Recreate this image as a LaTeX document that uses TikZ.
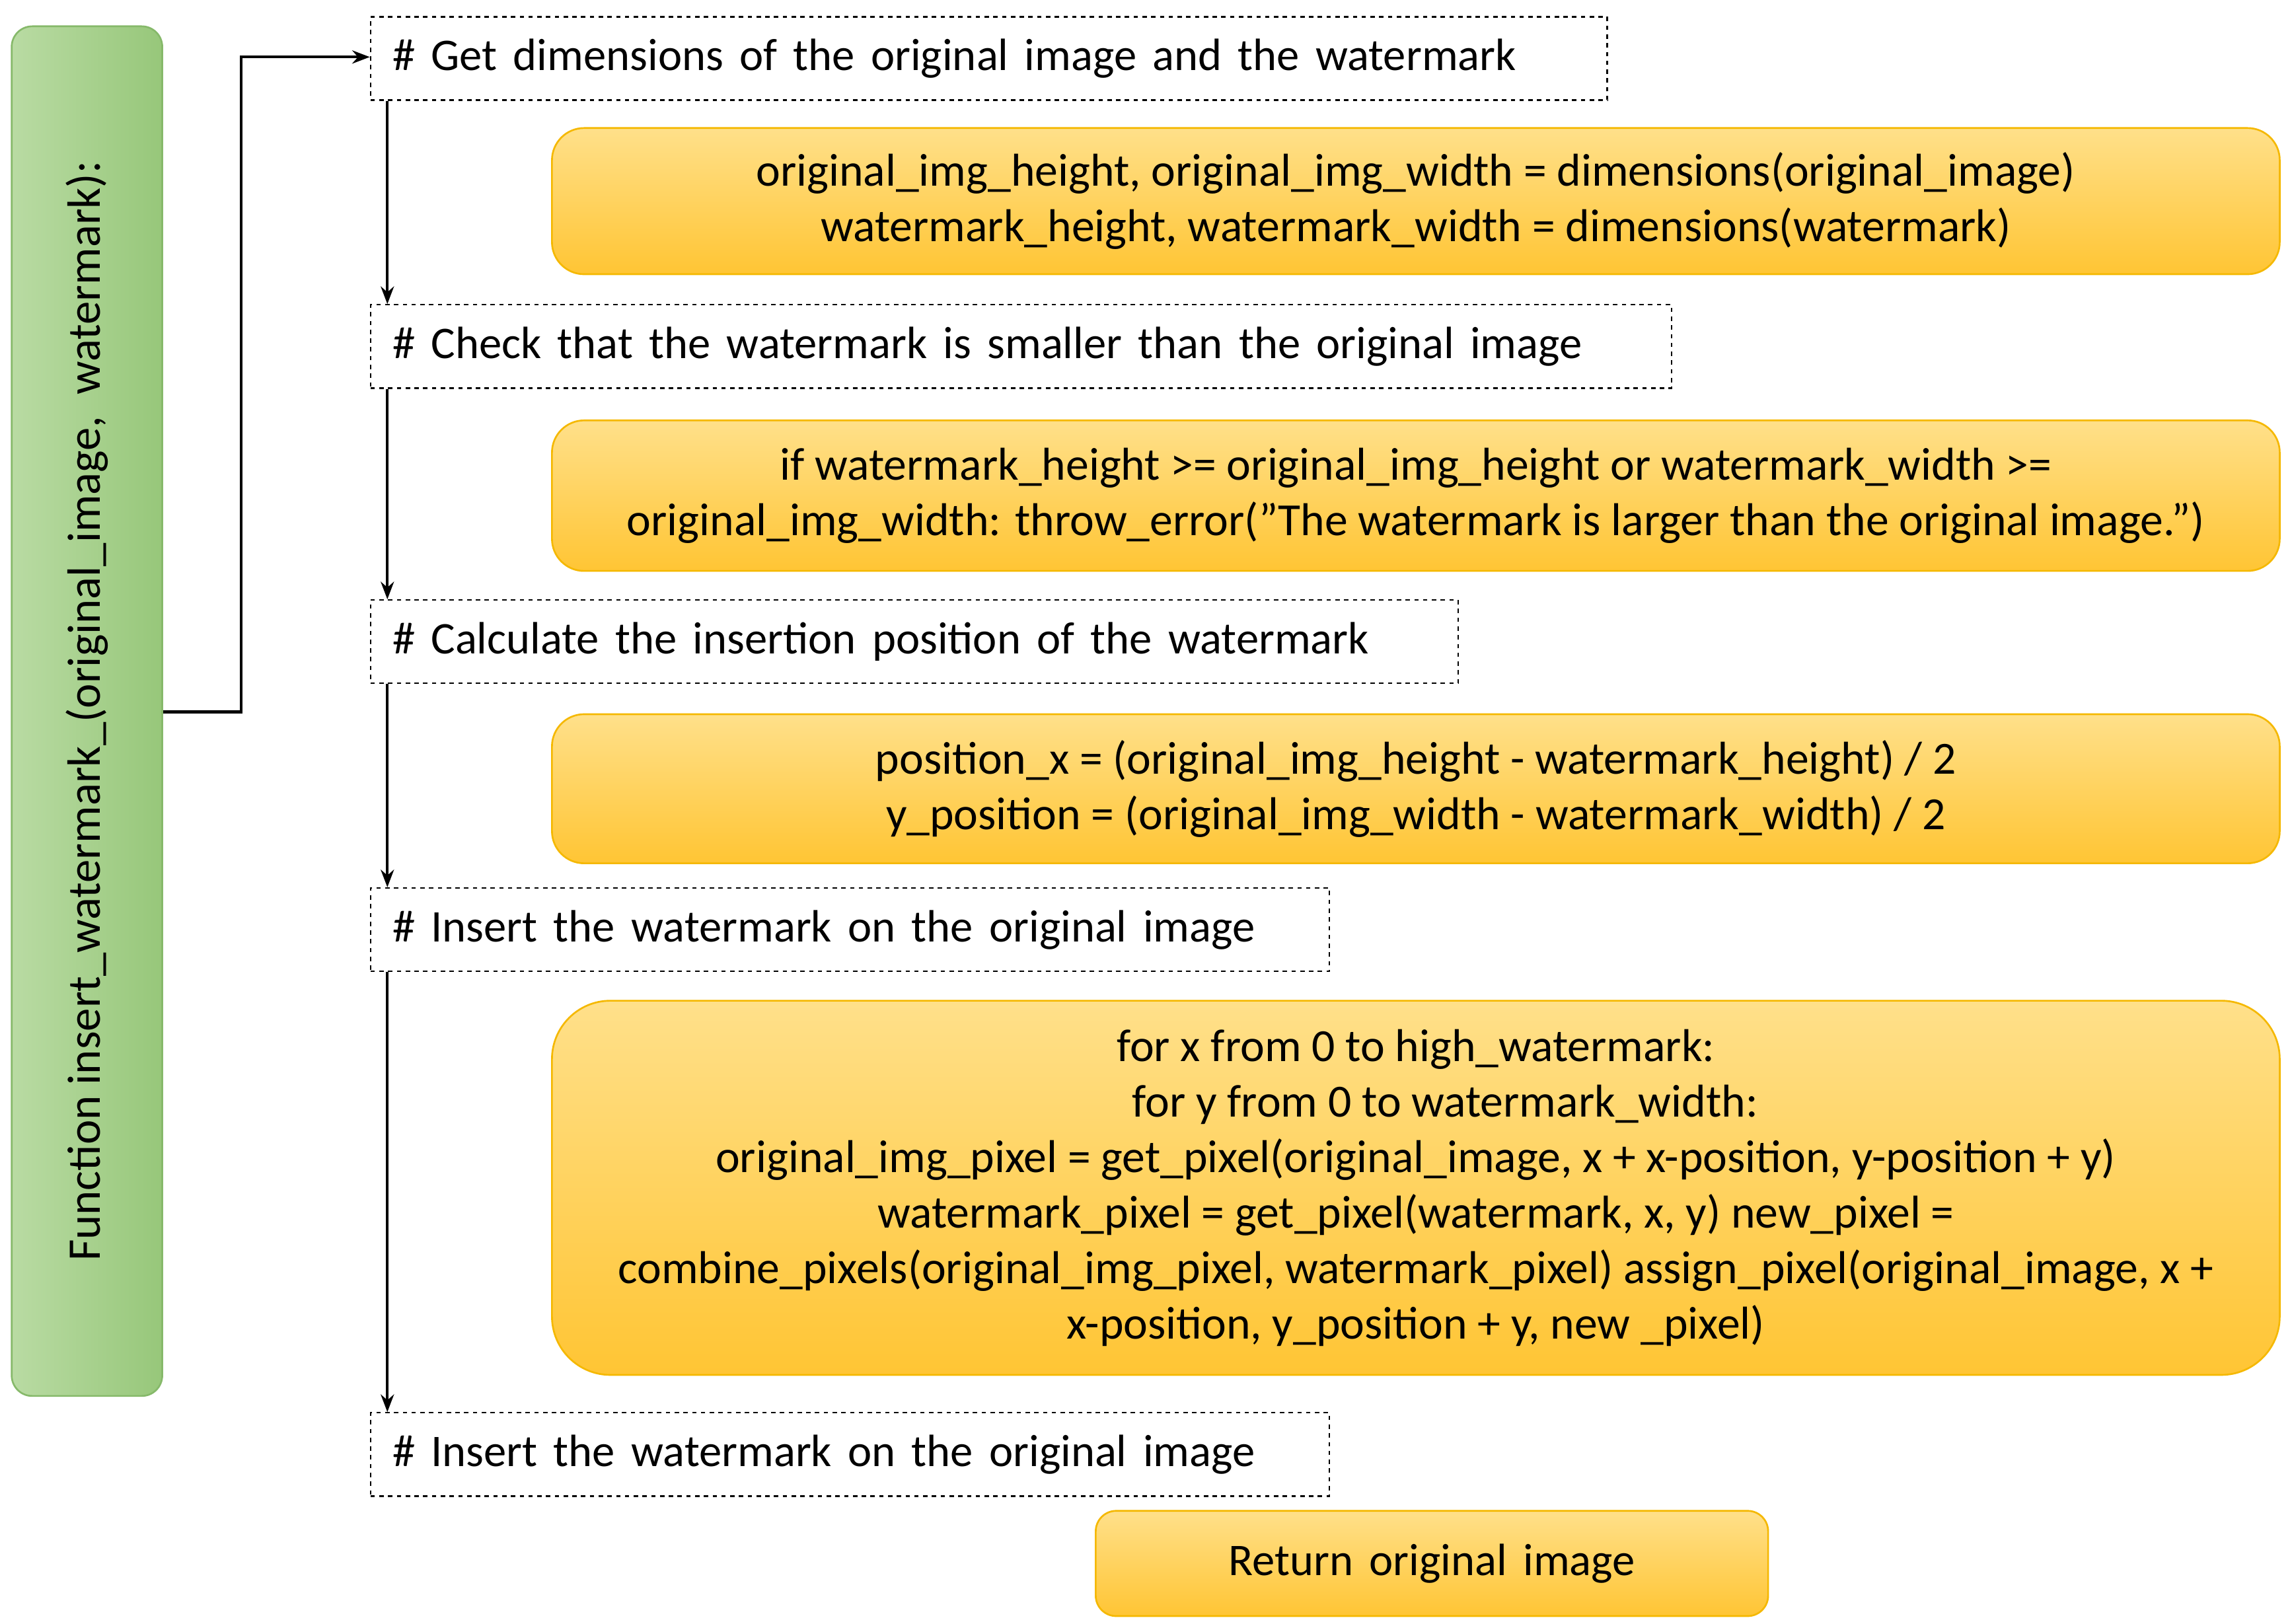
\documentclass[tikz,border=0pt]{standalone}
\usepackage{fontspec}
\setmainfont{Carlito}
\usetikzlibrary{arrows.meta}
\definecolor{og1}{HTML}{FFE08A}
\definecolor{og2}{HTML}{FFC534}
\definecolor{ogb}{HTML}{F5B800}
\definecolor{gr1}{HTML}{B9DBA3}
\definecolor{gr2}{HTML}{97C77A}
\definecolor{grb}{HTML}{86B96A}
\newcommand{\widesp}{\spaceskip=11pt plus 2pt\relax}
\tikzset{
 codebox/.style={draw=ogb,line width=1.2pt,top color=og1,bottom color=og2,rounded corners=22pt,align=center,font=\fontsize{31.5}{38}\selectfont,inner sep=0pt},
 cmtbox/.style={draw,dashed,line width=1pt,font=\fontsize{31}{34}\selectfont,inner sep=0pt,align=left},
 flow/.style={line width=2pt,-{Stealth[length=12pt,width=9pt]}}
}
\begin{document}
\begin{tikzpicture}[x=1pt,y=-1pt]
\useasboundingbox (0,0) rectangle (1568,1111);
% green
\node[draw=grb,line width=1.2pt,left color=gr1,right color=gr2,rounded corners=14pt,minimum width=103pt,minimum height=937pt,inner sep=0pt] (fn) at (59.5,486.5) {};
\node[rotate=90,font=\fontsize{32}{34}\selectfont] at (fn.center) {Function insert\_watermark\_(original\_image,\ \ watermark):};
% dashed comment boxes
\newcommand{\cmt}[4]{\node[cmtbox,minimum width=#3pt,minimum height=57pt,text width=#3pt-30pt,anchor=north west] (#1) at (253,#2) {\widesp\hspace*{0pt}#4};}
\cmt{c1}{11}{846}{\# Get dimensions of the original image and the watermark}
\cmt{c2}{208}{890}{\# Check that the watermark is smaller than the original image}
\cmt{c3}{410}{744}{\# Calculate the insertion position of the watermark}
\cmt{c4}{607}{656}{\# Insert the watermark on the original image}
\cmt{c5}{966}{656}{\# Insert the watermark on the original image}
% code boxes
\node[codebox,minimum width=1182pt,minimum height=100pt,anchor=north west] (o1) at (377,87) {original\_img\_height, original\_img\_width = dimensions(original\_image)\\watermark\_height, watermark\_width = dimensions(watermark)};
\node[codebox,minimum width=1182pt,minimum height=103pt,anchor=north west] (o2) at (377,287) {if watermark\_height >= original\_img\_height or watermark\_width >=\\original\_img\_width: throw\_error(\symbol{34}The watermark is larger than the original image.\symbol{34})};
\node[codebox,minimum width=1182pt,minimum height=102pt,anchor=north west] (o3) at (377,488) {position\_x = (original\_img\_height - watermark\_height) / 2\\y\_position = (original\_img\_width - watermark\_width) / 2};
\node[codebox,rounded corners=40pt,minimum width=1182pt,minimum height=256pt,anchor=north west] (o4) at (377,684) {for x from 0 to high\_watermark:\\\hspace*{40pt}for y from 0 to watermark\_width:\\original\_img\_pixel = get\_pixel(original\_image, x + x-position, y-position + y)\\watermark\_pixel = get\_pixel(watermark, x, y) new\_pixel =\\combine\_pixels(original\_img\_pixel, watermark\_pixel) assign\_pixel(original\_image, x +\\x-position, y\_position + y, new \_pixel)};
\node[codebox,rounded corners=14pt,font=\fontsize{31}{34}\selectfont,minimum width=460pt,minimum height=72pt,anchor=north west] (o5) at (749,1033) {\widesp Return original image};
% connectors
\coordinate (k1) at (165,487);
\coordinate (k2) at (165,39);
\draw[flow] (fn.east |- k1) -- (k1) -- (k2) -- (c1.west |- k2);
\foreach \a/\b in {c1/c2,c2/c3,c3/c4,c4/c5}
  \draw[flow] ([xshift=12pt]\a.south west) -- ([xshift=12pt]\b.north west);
\end{tikzpicture}
\end{document}
